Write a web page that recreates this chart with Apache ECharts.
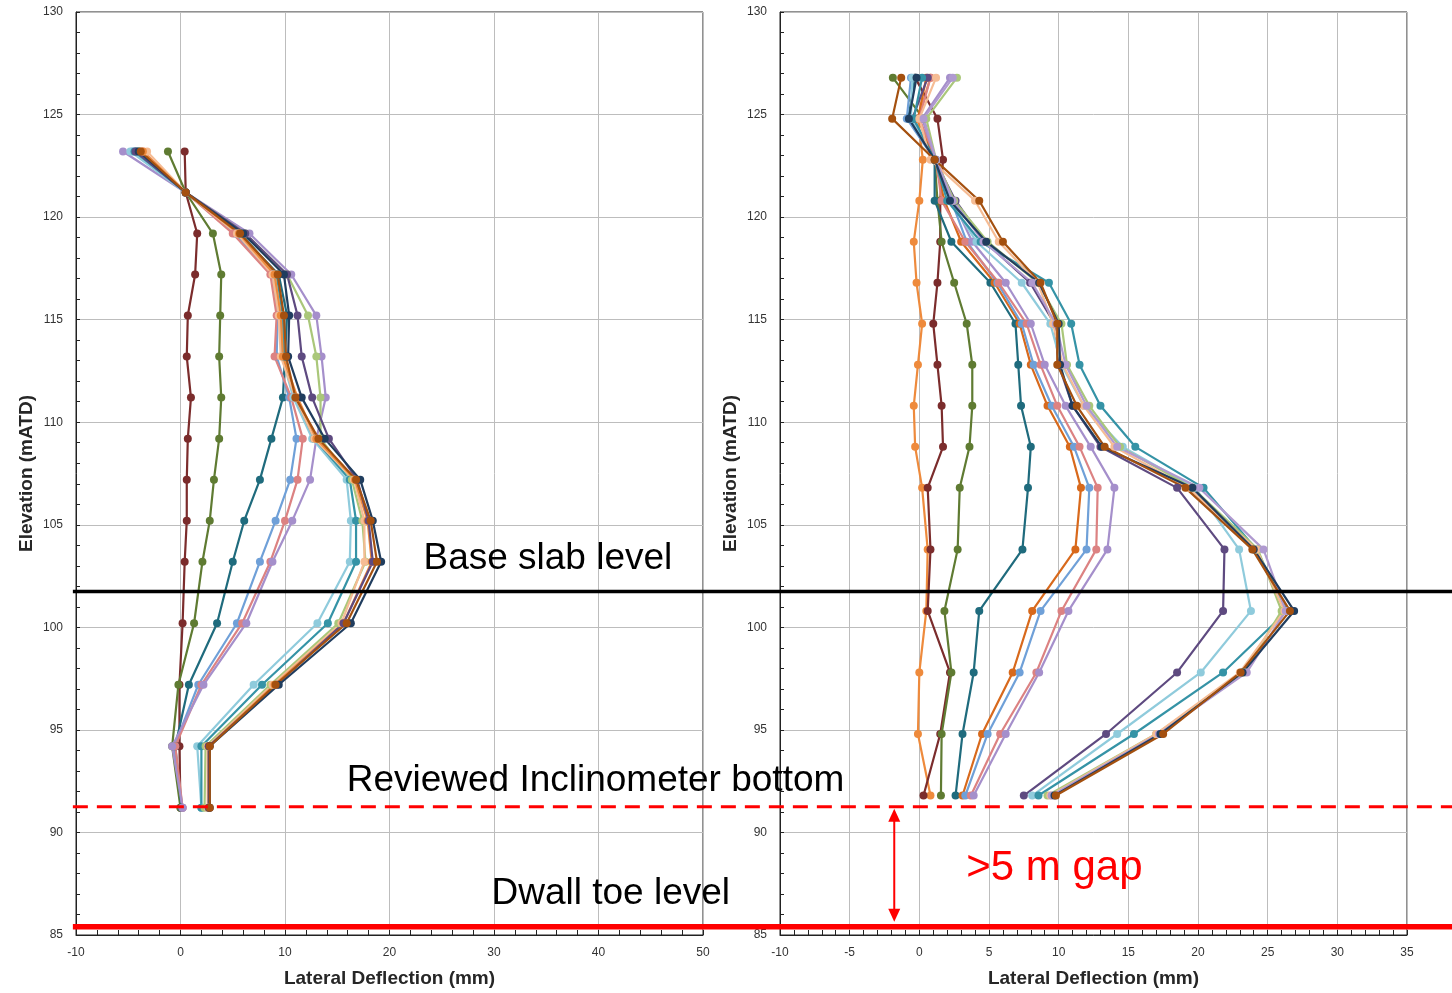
<!DOCTYPE html>
<html>
<head>
<meta charset="utf-8">
<script src="https://cdn.jsdelivr.net/npm/echarts@6/dist/echarts.min.js"></script>
<style>html,body{margin:0;padding:0;background:#fff;overflow:hidden;}#c{width:1452px;height:993px;}</style>
</head>
<body>
<div id="c"></div>
<script>
// ---------- DATA ----------
const LEFT_ELEV = [123.2,121.2,119.2,117.2,115.2,113.2,111.2,109.2,107.2,105.2,103.2,100.2,97.2,94.2,91.2];
const RIGHT_ELEV = [126.8,124.8,122.8,120.8,118.8,116.8,114.8,112.8,110.8,108.8,106.8,103.8,100.8,97.8,94.8,91.8];

const LEFT_X_TICKS = [-10,0,10,20,30,40,50];
const RIGHT_X_TICKS = [-10,-5,0,5,10,15,20,25,30,35];
const Y_TICKS = [85,90,95,100,105,110,115,120,125,130];

// left chart readings (mm)
const L_darkred    = [0.4,0.5,1.6,1.4,0.7,0.6,1.0,0.7,0.6,0.6,0.4,0.2,-0.1,-0.1,0.0];
const L_olive      = [-1.2,0.5,3.1,3.9,3.8,3.7,3.9,3.7,3.2,2.8,2.1,1.3,-0.2,-0.8,0.0];
const L_tealdark   = [-4.2,0.5,5.6,9.4,10.2,10.0,9.8,8.7,7.6,6.1,5.0,3.5,0.8,-0.5,0.1];
const L_lightblue  = [-4.6,0.5,5.2,8.8,9.3,9.2,10.4,11.1,10.5,9.1,7.6,5.4,1.7,-0.6,0.2];
const L_salmon     = [-3.6,0.5,5.0,8.6,9.2,9.0,10.6,11.7,11.2,10.0,8.6,5.9,2.0,-0.5,0.2];
const L_lavender   = [-5.5,0.5,6.6,10.6,13.0,13.5,13.9,13.0,12.4,10.7,8.8,6.3,2.2,-0.8,0.2];
const L_lightcyan  = [-4.8,0.5,5.6,9.0,9.6,9.7,10.8,12.6,15.9,16.3,16.2,13.1,7.0,1.6,2.0];
const L_teal       = [-4.4,0.5,5.8,9.2,9.8,9.9,11.0,12.8,16.2,16.8,16.8,14.1,7.8,2.0,2.0];
const L_lightgreen = [-4.0,0.5,6.2,10.2,12.2,13.0,13.4,13.4,16.4,17.4,17.7,15.1,8.6,2.4,2.3];
const L_peach      = [-3.2,0.5,5.4,8.8,9.4,9.6,11.0,12.8,16.6,17.6,17.6,15.4,8.8,2.6,2.6];
const L_orange     = [-3.6,0.5,5.6,9.0,9.6,9.8,11.2,13.0,16.7,17.9,18.3,15.6,9.0,2.7,2.7];
const L_darkpurple = [-4.3,0.5,6.2,10.2,11.2,11.6,12.6,14.2,16.9,18.0,18.4,15.6,9.2,2.7,2.7];
const L_navy       = [-4.0,0.5,6.0,9.9,10.4,10.3,11.6,13.8,17.2,18.4,19.2,16.3,9.4,2.8,2.8];
const L_brown      = [-3.8,0.5,5.7,9.3,9.9,10.1,11.0,13.2,16.8,18.2,18.8,15.9,9.1,2.8,2.8];

// right chart readings (mm)
const R_orange     = [0.8,-0.1,0.25,0.0,-0.4,-0.2,0.2,-0.1,-0.4,-0.3,0.2,0.6,0.5,0.0,-0.1,0.8];
const R_darkred    = [-0.3,1.3,1.7,1.5,1.5,1.3,1.0,1.3,1.6,1.7,0.6,0.8,0.6,2.2,1.5,0.3];
const R_olive      = [-1.9,0.3,1.1,1.3,1.6,2.5,3.4,3.8,3.8,3.6,2.9,2.75,1.8,2.3,1.6,1.55];
const R_tealdark   = [-0.3,-0.8,1.1,1.1,2.3,5.1,6.9,7.1,7.3,8.0,7.8,7.4,4.3,3.9,3.1,2.6];
const R_orange2    = [0.5,-0.1,1.1,1.8,3.0,5.4,7.2,8.0,9.2,10.8,11.6,11.2,8.1,6.7,4.5,3.1];
const R_lightblue  = [-0.6,-0.9,1.1,2.3,3.4,5.6,7.35,8.2,9.5,11.1,12.2,12.0,8.7,7.2,4.9,3.3];
const R_salmon     = [0.8,0.0,1.2,1.6,3.3,5.7,7.7,8.7,9.9,11.5,12.8,12.7,10.2,8.4,5.8,3.7];
const R_lavender   = [2.2,0.2,1.2,2.4,3.8,6.2,8.0,9.0,10.5,12.3,14.0,13.5,10.7,8.6,6.2,3.9];
const R_darkpurple = [0.6,-0.5,1.1,2.6,4.7,7.95,9.7,10.0,11.0,13.0,18.5,21.9,21.8,18.5,13.4,7.5];
const R_lightcyan  = [-0.5,-0.6,1.1,2.2,4.1,7.35,9.4,10.2,11.8,14.6,19.8,22.95,23.8,20.2,14.2,8.1];
const R_teal       = [0.2,-0.4,1.1,2.0,4.4,9.3,10.9,11.5,13.0,15.5,20.4,24.2,26.4,21.8,15.4,8.55];
const R_lightgreen = [2.7,0.5,1.2,2.5,4.9,8.5,10.2,10.6,12.2,14.4,19.6,24.3,26.0,23.3,17.0,9.2];
const R_peach      = [1.2,0.0,0.8,4.0,5.7,8.5,9.6,10.3,11.8,14.0,19.3,24.2,26.2,23.0,17.0,9.4];
const R_lavender2  = [2.4,0.3,1.2,2.4,4.6,8.1,9.8,10.5,12.0,14.2,20.1,24.7,26.3,23.5,17.2,9.5];
const R_navy       = [-0.2,-0.75,1.1,2.2,4.8,8.6,10.0,10.1,11.0,13.1,19.6,24.0,26.9,23.2,17.3,9.7];
const R_brown      = [-1.3,-1.95,1.1,4.3,6.0,8.7,9.9,9.9,11.3,13.3,19.1,23.9,26.6,23.06,17.5,9.8];

// annotation levels (mATD)
const BASE_SLAB = 101.75;
const INCLINO_BOTTOM = 91.25;
const DWALL_TOE = 85.4;

// ---------- STYLE ----------
const COL = {
  darkred:'#7b2c2c', olive:'#5f7b32', tealdark:'#1f6b7d', lightblue:'#6fa0d8', salmon:'#dc8282',
  lavender:'#a58fcb', lightcyan:'#8fcbdc', teal:'#3593a6', lightgreen:'#aac77a', peach:'#f6bc94',
  orange:'#ee8a3c', orange2:'#d8691c', darkpurple:'#5e4a80', navy:'#203d5e', brown:'#a4500f', lavender2:'#b09ad0'
};

const leftSeries = [
  ['darkred',L_darkred],['olive',L_olive],['tealdark',L_tealdark],['lightblue',L_lightblue],['salmon',L_salmon],
  ['lavender',L_lavender],['lightcyan',L_lightcyan],['teal',L_teal],['lightgreen',L_lightgreen],['peach',L_peach],
  ['orange',L_orange],['darkpurple',L_darkpurple],['navy',L_navy],['brown',L_brown]
];
const rightSeries = [
  ['orange',R_orange],['darkred',R_darkred],['olive',R_olive],['tealdark',R_tealdark],['orange2',R_orange2],
  ['lightblue',R_lightblue],['salmon',R_salmon],['lavender',R_lavender],['darkpurple',R_darkpurple],
  ['lightcyan',R_lightcyan],['teal',R_teal],['lightgreen',R_lightgreen],['peach',R_peach],['lavender2',R_lavender2],
  ['navy',R_navy],['brown',R_brown]
];

function mk(list, elev, idx){
  return list.map(([c, vals]) => ({
    type:'line', xAxisIndex:idx, yAxisIndex:idx, name:c,
    data: vals.map((v,i)=>[v, elev[i]]),
    symbol:'circle', symbolSize:8, showSymbol:true,
    lineStyle:{width:2.2, color:COL[c]}, itemStyle:{color:COL[c]},
    animation:false, silent:true, clip:false
  }));
}

const labelFont = {fontFamily:'"Liberation Sans Narrow","Liberation Sans",Arial,sans-serif', fontSize:12, color:'#333'};
const nameFont = {fontFamily:'"Liberation Sans",Arial,sans-serif', fontSize:19, fontWeight:'bold', color:'#262626'};

function xAx(idx, ticks){
  const interval = ticks[1]-ticks[0];
  return {
    type:'value', gridIndex:idx, min:ticks[0], max:ticks[ticks.length-1], interval:interval,
    name:'Lateral Deflection (mm)', nameLocation:'middle', nameGap:34, nameTextStyle:nameFont,
    axisLine:{show:true, onZero:false, lineStyle:{color:'#222', width:1}},
    axisTick:{show:true, inside:true, length:5, lineStyle:{color:'#222'}},
    minorTick:{show:true, splitNumber:5, length:5, lineStyle:{color:'#222'}},
    axisLabel:Object.assign({margin:12}, labelFont),
    splitLine:{show:true, lineStyle:{color:'#bdbdbd', width:1}}
  };
}
function yAx(idx){
  return {
    type:'value', gridIndex:idx, min:Y_TICKS[0], max:Y_TICKS[Y_TICKS.length-1], interval:Y_TICKS[1]-Y_TICKS[0],
    name:'Elevation (mATD)', nameLocation:'middle', nameGap:40, nameTextStyle:nameFont,
    axisLine:{show:true, onZero:false, lineStyle:{color:'#222', width:1}},
    axisTick:{show:true, inside:true, length:4, lineStyle:{color:'#222'}},
    minorTick:{show:true, splitNumber:5, length:4, lineStyle:{color:'#222'}},
    axisLabel:Object.assign({margin:13}, labelFont),
    splitLine:{show:true, lineStyle:{color:'#bdbdbd', width:1}}
  };
}

const chart = echarts.init(document.getElementById('c'), null, {renderer:'canvas'});
chart.setOption({
  backgroundColor:'#fff',
  animation:false,
  grid:[
    {left:76, top:12, width:627, height:928, show:true, borderColor:'#222', borderWidth:1, backgroundColor:'transparent'},
    {left:780, top:12, width:627, height:928, show:true, borderColor:'#222', borderWidth:1, backgroundColor:'transparent'}
  ],
  xAxis:[xAx(0, LEFT_X_TICKS), xAx(1, RIGHT_X_TICKS)],
  yAxis:[yAx(0), yAx(1)],
  series: mk(leftSeries, LEFT_ELEV, 0).concat(mk(rightSeries, RIGHT_ELEV, 1))
});

// ---------- ANNOTATIONS (positions from the axes' scales) ----------
function pL(x,y){ return chart.convertToPixel({gridIndex:0}, [x,y]); }
function pR(x,y){ return chart.convertToPixel({gridIndex:1}, [x,y]); }
const W = chart.getWidth();
const x0 = pL(-10.3, 100)[0];
const yBase = pL(0, BASE_SLAB)[1];
const yInc = pL(0, INCLINO_BOTTOM)[1];
const yToe = pL(0, DWALL_TOE)[1];
const arrowX = pR(-1.8, 100)[0];
const aTop = yInc + 2, aBot = yToe - 5;
const txtFont = '37px "Liberation Sans", Arial, sans-serif';

const g = [
  {type:'line', z:100, shape:{x1:x0, y1:yBase, x2:W, y2:yBase}, style:{stroke:'#000', lineWidth:3.5}},
  {type:'line', z:100, shape:{x1:x0, y1:yInc, x2:W, y2:yInc}, style:{stroke:'#ff0000', lineWidth:3, lineDash:[15,9]}},
  {type:'line', z:100, shape:{x1:x0, y1:yToe, x2:W, y2:yToe}, style:{stroke:'#ff0000', lineWidth:5.5}},
  {type:'line', z:100, shape:{x1:arrowX, y1:aTop+8, x2:arrowX, y2:aBot-8}, style:{stroke:'#ff0000', lineWidth:2}},
  {type:'polygon', z:100, shape:{points:[[arrowX, aTop],[arrowX-6, aTop+13],[arrowX+6, aTop+13]]}, style:{fill:'#ff0000'}},
  {type:'polygon', z:100, shape:{points:[[arrowX, aBot],[arrowX-6, aBot-13],[arrowX+6, aBot-13]]}, style:{fill:'#ff0000'}},
  {type:'text', z:101, x:pL(23.25,103.33)[0], y:pL(23.25,103.33)[1], style:{text:'Base slab level', font:txtFont, fill:'#000', textAlign:'left', textVerticalAlign:'middle'}},
  {type:'text', z:101, x:pL(15.9,92.51)[0], y:pL(15.9,92.51)[1], style:{text:'Reviewed Inclinometer bottom', font:txtFont, fill:'#000', textAlign:'left', textVerticalAlign:'middle'}},
  {type:'text', z:101, x:pL(29.76,87.03)[0], y:pL(29.76,87.03)[1], style:{text:'Dwall toe level', font:txtFont, fill:'#000', textAlign:'left', textVerticalAlign:'middle'}},
  {type:'text', z:101, x:pR(3.37,88.24)[0], y:pR(3.37,88.24)[1], style:{text:'>5 m gap', font:'42px "Liberation Sans", Arial, sans-serif', fill:'#ff0000', textAlign:'left', textVerticalAlign:'middle'}}
];
chart.setOption({graphic:g});
</script>
</body>
</html>
